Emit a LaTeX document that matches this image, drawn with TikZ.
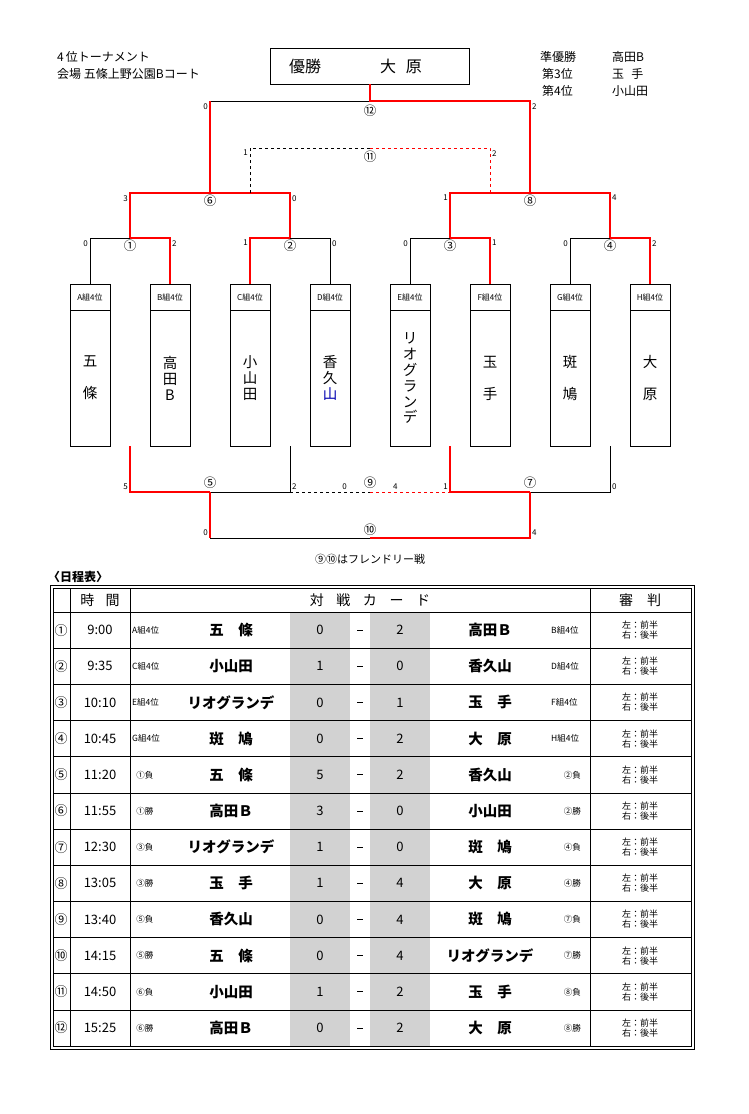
\documentclass[tikz,border=0pt]{standalone}
\usepackage{fontspec}
\setmainfont{Noto Sans CJK JP}
\begin{document}
\begin{tikzpicture}[x=1pt,y=-1pt,
  blk/.style={black,line width=0.7pt},
  rd/.style={red,line width=1.4pt},
  sc/.style={font=\fontsize{8}{8}\selectfont,inner sep=1pt},
  mk/.style={font=\fontsize{12.5}{12.5}\selectfont,inner sep=0pt},
  tt/.style={font=\fontsize{12}{12}\selectfont,anchor=west,inner sep=0pt},
  nm/.style={font=\fontsize{14.5}{14.5}\selectfont,inner sep=0pt},
  lab/.style={font=\fontsize{8}{8}\selectfont,inner sep=0pt}]
\useasboundingbox (0,0) rectangle (749,1114);
\fill[white] (0,0) rectangle (749,1114);
% header texts
\node[tt] (h1) at (57,57) {4\,位トーナメント};
\node[tt] (h2) at (57,74) {会場 五條上野公園Bコート};
\node[draw,line width=0.8pt,minimum width=199pt,minimum height=36pt,anchor=north west] (champ) at (270,48) {};
\node[font=\fontsize{16}{16}\selectfont] (c1) at (305,66) {優勝};
\node[font=\fontsize{16}{16}\selectfont] (c2) at (401,66) {大\hspace{0.6em}原};
\node[tt] (r1) at (540,57) {準優勝};
\node[tt] (r1b) at (612,57) {高田B};
\node[tt] (r2) at (542,74) {第3位};
\node[tt] (r2b) at (612,74) {玉\hspace{0.6em}手};
\node[tt] (r3) at (542,91) {第4位};
\node[tt] (r3b) at (612,91) {小山田};
% team boxes
\foreach \x/\g in {90/A,170/B,250/C,330/D,410/E,490/F,570/G,650/H}{
  \draw[line width=0.6pt] (\x-20,284) rectangle (\x+20,446);
  \draw[line width=0.6pt] (\x-20,310) -- (\x+20,310);
  \node[lab] (g\g) at (\x,297) {\g 組4位};
}
\node[nm,align=center] (tA) at (90,378) {五\\[1.2em]條};
\node[nm,align=center] (tB) at (170,378) {高\\[0.1em]田\\[0.1em]B};
\node[nm,align=center] (tC) at (250,378) {小\\[0.1em]山\\[0.1em]田};
\node[nm,align=center] (tD) at (330,378) {香\\[0.1em]久\\[0.1em]\textcolor{blue!70!black}{山}};
\node[nm,align=center] (tE) at (410,378) {リ\\[0.1em]オ\\[0.1em]グ\\[0.1em]ラ\\[0.1em]ン\\[0.1em]デ};
\node[nm,align=center] (tF) at (490,378) {玉\\[1.2em]手};
\node[nm,align=center] (tG) at (570,378) {斑\\[1.2em]鳩};
\node[nm,align=center] (tH) at (650,378) {大\\[1.2em]原};
% round 1
\foreach \a/\b in {90/170,250/330,410/490,570/650}{
  \draw[blk] (\a,284) -- (\a,238) -- (\b,238) -- (\b,284);
}
\draw[rd] (170,284) -- (170,238) -- (130,238);
\draw[rd] (250,284) -- (250,238) -- (290,238);
\draw[rd] (490,284) -- (490,238) -- (450,238);
\draw[rd] (650,284) -- (650,238) -- (610,238);
\node[mk] (m1) at (130,246) {①};
\node[mk] (m2) at (290,246) {②};
\node[mk] (m3) at (450,246) {③};
\node[mk] (m4) at (610,246) {④};
\node[sc,anchor=north east] at (89,239) {0};
\node[sc,anchor=north west] at (171,239) {2};
\node[sc,anchor=north east] at (249,239) {1};
\node[sc,anchor=north west] at (331,239) {0};
\node[sc,anchor=north east] at (409,239) {0};
\node[sc,anchor=north west] at (491,239) {1};
\node[sc,anchor=north east] at (569,239) {0};
\node[sc,anchor=north west] at (651,239) {2};
% round 2
\draw[blk] (130,238) -- (130,193) -- (290,193) -- (290,238);
\draw[blk] (450,238) -- (450,193) -- (610,193) -- (610,238);
\draw[rd] (130,238) -- (130,193) -- (210,193);
\draw[rd] (290,238) -- (290,193) -- (210,193);
\draw[rd] (450,238) -- (450,193) -- (530,193);
\draw[rd] (610,238) -- (610,193) -- (530,193);
\node[mk] (m6) at (210,201) {⑥};
\node[mk] (m8) at (530,201) {⑧};
\node[sc,anchor=north east] at (129,194) {3};
\node[sc,anchor=north west] at (291,194) {0};
\node[sc,anchor=north east] at (449,194) {1};
\node[sc,anchor=north west] at (611,194) {4};
% match 11 dashed
\draw[black,dashed,line width=0.6pt] (250,193) -- (250,148) -- (370,148);
\draw[red,dashed,line width=0.6pt] (370,148) -- (490,148) -- (490,193);
\node[mk] (m11) at (370,157) {⑪};
\node[sc,anchor=north east] at (249,149) {1};
\node[sc,anchor=north west] at (491,149) {2};
% final
\draw[blk] (210,193) -- (210,101) -- (370,101);
\draw[rd] (210,193) -- (210,101);
\draw[rd] (370,84) -- (370,101) -- (530,101) -- (530,193);
\node[mk] (m12) at (370,111) {⑫};
\node[sc,anchor=north east] at (209,102) {0};
\node[sc,anchor=north west] at (531,102) {2};
% lower bracket
\draw[blk] (290,446) -- (290,492) -- (210,492);
\draw[rd] (130,446) -- (130,492) -- (210,492);
\draw[blk] (610,446) -- (610,492) -- (530,492);
\draw[rd] (450,446) -- (450,492) -- (530,492);
\draw[black,dashed,line width=0.6pt] (290,492) -- (370,492);
\draw[red,dashed,line width=0.6pt] (370,492) -- (450,492);
\draw[blk] (210,538) -- (370,538);
\draw[rd] (210,492) -- (210,538);
\draw[rd] (370,538) -- (530,538) -- (530,492);
\node[mk] (m5) at (210,483) {⑤};
\node[mk] (m7) at (530,483) {⑦};
\node[mk] (m9) at (370,483) {⑨};
\node[mk] (m10) at (370,530) {⑩};
\node[sc,anchor=south east] at (129,491) {5};
\node[sc,anchor=south west] at (291,491) {2};
\node[sc,anchor=south east] at (348,491) {0};
\node[sc,anchor=south west] at (392,491) {4};
\node[sc,anchor=south east] at (449,491) {1};
\node[sc,anchor=south west] at (611,491) {0};
\node[sc,anchor=south east] at (209,537) {0};
\node[sc,anchor=south west] at (531,537) {4};
\node[font=\fontsize{11}{11}\selectfont] (note) at (370,559) {⑨⑩はフレンドリー戦};
% table
\node[font=\fontsize{12}{12}\selectfont\bfseries,anchor=west,inner sep=0pt] (ttl) at (48,577) {〈日程表〉};
\fill[gray!35] (290,612) rectangle (350,1046);
\fill[gray!35] (370,612) rectangle (430,1046);
\draw[line width=0.6pt] (50,585) rectangle (694,1049);
\draw[line width=0.6pt] (53,588) rectangle (691,1046);
\foreach \i in {0,...,11}{ \draw[line width=0.6pt] (53,{612+36.17*\i}) -- (691,{612+36.17*\i}); }
\foreach \x in {70,130,590}{ \draw[line width=0.6pt] (\x,588) -- (\x,1046); }
\node[font=\fontsize{14}{14}\selectfont] (th1) at (100,600) {時\hspace{0.8em}間};
\node[font=\fontsize{14}{14}\selectfont] (th2) at (370,600) {対\hspace{0.9em}戦\hspace{0.9em}カ\hspace{0.9em}ー\hspace{0.9em}ド};
\node[font=\fontsize{14}{14}\selectfont] (th3) at (640,600) {審\hspace{1em}判};
\foreach \n/\t/\la/\ta/\sa/\sb/\tb/\lb [count=\i from 0] in {
 ①/9:00/A組4位/五\hspace{1em}條/0/2/高田Ｂ/B組4位,
 ②/9:35/C組4位/小山田/1/0/香久山/D組4位,
 ③/10:10/E組4位/リオグランデ/0/1/玉\hspace{1em}手/F組4位,
 ④/10:45/G組4位/斑\hspace{1em}鳩/0/2/大\hspace{1em}原/H組4位,
 ⑤/11:20/\hspace{0.5em}①負/五\hspace{1em}條/5/2/香久山/\hspace{1.5em}②負,
 ⑥/11:55/\hspace{0.5em}①勝/高田Ｂ/3/0/小山田/\hspace{1.5em}②勝,
 ⑦/12:30/\hspace{0.5em}③負/リオグランデ/1/0/斑\hspace{1em}鳩/\hspace{1.5em}④負,
 ⑧/13:05/\hspace{0.5em}③勝/玉\hspace{1em}手/1/4/大\hspace{1em}原/\hspace{1.5em}④勝,
 ⑨/13:40/\hspace{0.5em}⑤負/香久山/0/4/斑\hspace{1em}鳩/\hspace{1.5em}⑦負,
 ⑩/14:15/\hspace{0.5em}⑤勝/五\hspace{1em}條/0/4/リオグランデ/\hspace{1.5em}⑦勝,
 ⑪/14:50/\hspace{0.5em}⑥負/小山田/1/2/玉\hspace{1em}手/\hspace{1.5em}⑧負,
 ⑫/15:25/\hspace{0.5em}⑥勝/高田Ｂ/0/2/大\hspace{1em}原/\hspace{1.5em}⑧勝}{
  \pgfmathsetmacro{\yy}{630.1+36.17*\i}
  \node[font=\fontsize{13}{13}\selectfont,inner sep=0pt] at (61,\yy) {\n};
  \node[font=\fontsize{13}{13}\selectfont,inner sep=0pt] at (100,\yy) {\t};
  \node[font=\fontsize{8.5}{8.5}\selectfont,anchor=west,inner sep=0pt] at (132,\yy) {\la};
  \node[font=\fontsize{14.5}{14.5}\selectfont\bfseries,inner sep=0pt] at (231,\yy) {\ta};
  \node[font=\fontsize{13}{13}\selectfont,inner sep=0pt] at (320,\yy) {\sa};
  \draw[line width=0.7pt] (357,\yy) -- (363,\yy);
  \node[font=\fontsize{13}{13}\selectfont,inner sep=0pt] at (400,\yy) {\sb};
  \node[font=\fontsize{14.5}{14.5}\selectfont\bfseries,inner sep=0pt] at (490,\yy) {\tb};
  \node[font=\fontsize{8.5}{8.5}\selectfont,anchor=west,inner sep=0pt] at (551,\yy) {\lb};
  \node[font=\fontsize{9}{10}\selectfont,align=left,inner sep=0pt] at (640,\yy) {左：前半\\右：後半};
}
\end{tikzpicture}
\end{document}
